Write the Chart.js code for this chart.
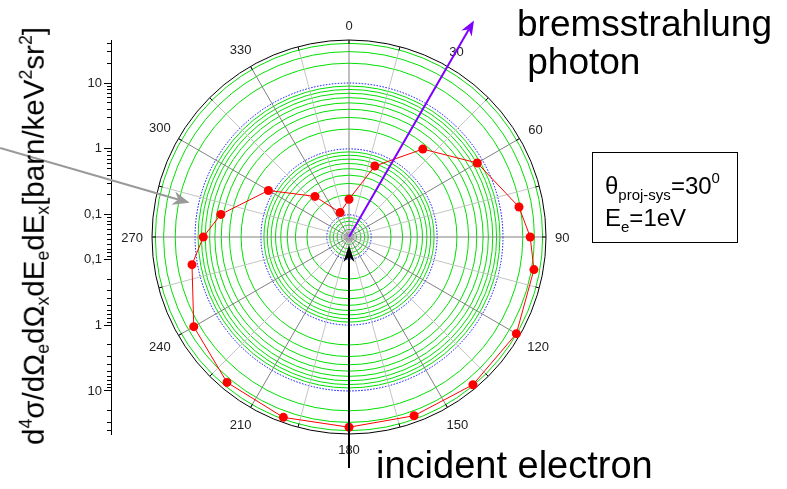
<!DOCTYPE html>
<html>
<head>
<meta charset="utf-8">
<script src="https://cdn.jsdelivr.net/npm/chart.js@4.4.1/dist/chart.umd.min.js"></script>
<style>
  html, body { margin: 0; padding: 0; background: #fff; }
  #wrap { position: relative; width: 787px; height: 489px; overflow: hidden;
          font-family: "Liberation Sans", Arial, sans-serif; color: #000; }
  #wrap canvas { position: absolute; left: 0; top: 0; }
  .txt { position: absolute; white-space: nowrap; }
  .sb { font-size: 60%; vertical-align: -0.3em; }
  .sp { font-size: 60%; vertical-align: 0.65em; }
  #ytitle { left: 35px; top: 236px; font-size: 29.5px; line-height: 1;
            transform: translate(-50%, -50%) rotate(-90deg); }
  #photon { left: 517px; top: 5px; font-size: 37px; line-height: 38px; }
  #electron { left: 376px; top: 447px; font-size: 38px; line-height: 37px; }
  #infobox { position: absolute; left: 592px; top: 152px; width: 146px; height: 91px;
             box-sizing: border-box; border: 1px solid #000; }
  .info { font-size: 24px; line-height: 24px; }
  .info .sb { font-size: 15px; vertical-align: -6px; }
  .info .sp { font-size: 15px; vertical-align: 11px; }
</style>
</head>
<body>
<div id="wrap">
  <canvas id="polar" width="787" height="489"></canvas>
  <div id="ytitle" class="txt">d<span class="sp">4</span>σ/dΩ<span class="sb">e</span>dΩ<span class="sb">x</span>dE<span class="sb">e</span>dE<span class="sb">x</span>[barn/keV<span class="sp">2</span>sr<span class="sp">2</span>]</div>
  <div id="photon" class="txt">bremsstrahlung<br>&nbsp;photon</div>
  <div id="electron" class="txt">incident electron</div>
  <div id="infobox"></div>
  <div class="txt info" style="left:605px; top:166px;">θ<span class="sb">proj-sys</span>=30<span class="sp">0</span></div>
  <div class="txt info" style="left:605px; top:206px;">E<span class="sb">e</span>=1eV</div>
</div>
<script>
// Emission angle (degrees) and cross section d4σ/dΩe dΩx dEe dEx [barn/keV² sr²]
const angles = [0, 20, 40, 60, 80, 90, 100, 120, 140, 160, 180, 200, 220, 240, 260, 270, 280, 300, 320, 340];
const crossSection = [0.172, 0.644, 2.54, 8.14, 19.2, 25.9, 32.6, 39.5, 38.9, 35.5, 35.5, 37.7, 35.0, 24.2, 12.1, 7.5, 4.35, 1.19, 0.293, 0.114];

// Radial (logarithmic) range and grid rings
const rMin = 0.046;
const rMax = 45;
const ringValues = [0.05, 0.06, 0.07, 0.08, 0.09, 0.1, 0.2, 0.3, 0.4, 0.5, 0.6, 0.7, 0.8, 0.9,
                    1, 2, 3, 4, 5, 6, 7, 8, 9, 10, 20, 30, 40];
const decadeValues = [0.1, 1, 10];
const decadeLabels = ['0,1', '1', '10'];

// Angular grid
const angleStep = 5;
const angleLabels = ['0', '30', '60', '90', '120', '150', '180', '210', '240', '270', '300', '330'];

const lg = Math.log10;
const isDecade = v => decadeValues.some(d => Math.abs(lg(d) - v) < 1e-9);
const spokeAngles = Array.from({ length: 360 / angleStep }, (_, i) => i * angleStep);
const series = spokeAngles.map(a => {
  const k = angles.indexOf(a);
  return k < 0 ? null : lg(crossSection[k]);
});

function arrow(ctx, p0, p1, color, width, len, half) {
  const dx = p1.x - p0.x, dy = p1.y - p0.y;
  const L = Math.hypot(dx, dy);
  const ux = dx / L, uy = dy / L, nx = -uy, ny = ux;
  const notch = { x: p1.x - ux * len * 0.7, y: p1.y - uy * len * 0.7 };
  ctx.save();
  ctx.strokeStyle = color;
  ctx.fillStyle = color;
  ctx.lineWidth = width;
  ctx.beginPath();
  ctx.moveTo(p0.x, p0.y);
  ctx.lineTo(notch.x, notch.y);
  ctx.stroke();
  ctx.beginPath();
  ctx.moveTo(p1.x, p1.y);
  ctx.lineTo(p1.x - ux * len + nx * half, p1.y - uy * len + ny * half);
  ctx.lineTo(notch.x, notch.y);
  ctx.lineTo(p1.x - ux * len - nx * half, p1.y - uy * len - ny * half);
  ctx.closePath();
  ctx.fill();
  ctx.restore();
}

const polarDecor = {
  id: 'polarDecor',
  beforeDatasetsDraw(chart) {
    const s = chart.scales.r;
    const ctx = chart.ctx;
    const R = s.drawingArea;
    ctx.save();
    // small hub at the origin
    ctx.fillStyle = 'rgba(160,160,160,0.7)';
    ctx.beginPath();
    ctx.arc(s.xCenter, s.yCenter, 5, 0, Math.PI * 2);
    ctx.fill();
    // rim ticks every 15°
    ctx.strokeStyle = '#000';
    ctx.lineWidth = 1;
    for (let a = 0; a < 360; a += 15) {
      const p1 = s.getPointPosition(a / angleStep, R);
      const p2 = s.getPointPosition(a / angleStep, R - 4);
      ctx.beginPath();
      ctx.moveTo(p1.x, p1.y);
      ctx.lineTo(p2.x, p2.y);
      ctx.stroke();
    }
    ctx.restore();
  },
  afterDatasetsDraw(chart) {
    const s = chart.scales.r;
    const ctx = chart.ctx;
    const R = s.drawingArea;
    const at = (deg, d) => s.getPointPosition(deg / angleStep, d);
    // angle labels
    ctx.save();
    ctx.font = '13px "Liberation Sans", Arial, sans-serif';
    ctx.fillStyle = '#222';
    ctx.textAlign = 'center';
    ctx.textBaseline = 'middle';
    angleLabels.forEach((t, k) => {
      const deg = k * 30;
      const rad = deg * Math.PI / 180;
      const w = ctx.measureText(t).width;
      const ext = Math.abs(Math.sin(rad)) * w / 2 + Math.abs(Math.cos(rad)) * 6;
      const p = at(deg, R + 9 + ext);
      ctx.fillText(t, p.x, p.y + 1);
    });
    ctx.restore();
    // arrows: emitted photon, incoming electron, pointer to the radial axis
    arrow(ctx, at(30, 0), at(30, 250), '#7f00ff', 2, 15, 6);
    arrow(ctx, at(180, 231), at(180, 8), '#000', 2, 17, 5.5);
    arrow(ctx, at(284.3, 360), at(282.1, 163), '#999', 2, 17, 7);
  }
};

const axisTicks = s => { s.ticks = ringValues.map(v => ({ value: v })); };
const axisLabel = v => {
  const k = decadeValues.findIndex(d => Math.abs(d - v) < 1e-9);
  return k < 0 ? '' : decadeLabels[k];
};
const minorDash = ctx => (decadeValues.some(d => Math.abs(d - ctx.tick.value) < 1e-9) ? [] : [4, 3]);
const logAxis = (reverse, weight) => ({
  type: 'logarithmic',
  position: 'left',
  stack: 'radial',
  weight: weight,
  reverse: reverse,
  min: rMin,
  max: rMax,
  afterBuildTicks: axisTicks,
  afterFit: s => { s.width = 50; },
  grid: {
    drawOnChartArea: false,
    drawTicks: true,
    tickLength: 7,
    tickColor: '#000',
    tickWidth: 1,
    tickBorderDash: minorDash,
    tickBorderDashOffset: 4
  },
  border: { display: true, color: '#000', width: 1 },
  ticks: {
    autoSkip: false,
    padding: 2,
    color: '#222',
    font: { size: 13 },
    callback: axisLabel
  }
});

Chart.defaults.font.family = '"Liberation Sans", Arial, sans-serif';

new Chart(document.getElementById('polar'), {
  type: 'radar',
  data: {
    labels: spokeAngles,
    datasets: [{
      data: series,
      spanGaps: true,
      fill: false,
      borderColor: '#ff0000',
      borderWidth: 1,
      tension: 0,
      pointRadius: 4.5,
      pointBorderWidth: 0,
      pointBackgroundColor: '#ff0000',
      pointBorderColor: '#ff0000'
    }]
  },
  options: {
    responsive: false,
    animation: false,
    events: [],
    layout: { padding: { left: 61, right: 200, top: 40, bottom: 55 } },
    plugins: { legend: { display: false }, tooltip: { enabled: false } },
    scales: {
      yDown: logAxis(true, 0),
      yUp: logAxis(false, 1),
      r: {
        min: lg(rMin),
        max: lg(rMax),
        startAngle: 0,
        beginAtZero: false,
        afterBuildTicks: s => {
          s.ticks = [{ value: lg(rMin) }]
            .concat(ringValues.map(v => ({ value: lg(v) })))
            .concat([{ value: lg(rMax) }]);
        },
        ticks: { display: false },
        pointLabels: { display: false },
        grid: {
          circular: true,
          color: ctx => {
            const v = ctx.tick.value;
            if (ctx.index === 0) return 'rgba(0,0,0,0)';
            if (Math.abs(v - lg(rMax)) < 1e-9) return '#000';
            return isDecade(v) ? '#0000ff' : '#00e000';
          },
          lineWidth: 1
        },
        border: {
          dash: ctx => (isDecade(ctx.tick.value) ? [1.5, 1.5] : [])
        },
        angleLines: {
          color: ctx => {
            const a = ctx.index * angleStep;
            if (a % 30 === 0) return '#808080';
            if (a % 15 === 0) return '#c4c4c4';
            return 'rgba(0,0,0,0)';
          },
          lineWidth: ctx => ((ctx.index * angleStep) % 15 === 0 ? 1 : 0)
        }
      }
    }
  },
  plugins: [polarDecor]
});
</script>
</body>
</html>
